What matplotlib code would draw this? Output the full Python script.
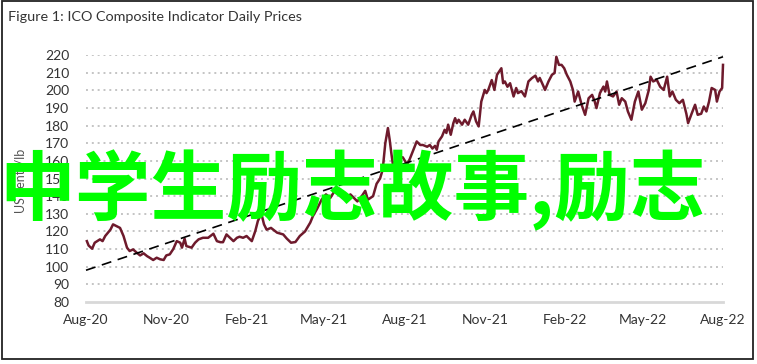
import numpy as np
import matplotlib
matplotlib.use("Agg")
import matplotlib.pyplot as plt
import matplotlib.dates as mdates
from matplotlib.patches import Rectangle

plt.rcParams['font.family'] = ['Lato', 'Noto Sans CJK SC', 'DejaVu Sans']

# ICO composite indicator (US cents/lb)
dates = [
    "2020-08-02", "2020-08-04", "2020-08-08", "2020-08-11", "2020-08-17", "2020-08-20",
    "2020-08-23", "2020-08-29", "2020-09-01", "2020-09-05", "2020-09-09", "2020-09-13",
    "2020-09-17", "2020-09-20", "2020-09-24", "2020-09-28", "2020-10-02", "2020-10-06",
    "2020-10-10", "2020-10-13", "2020-10-17", "2020-10-21", "2020-10-25", "2020-10-29",
    "2020-11-01", "2020-11-05", "2020-11-09", "2020-11-13", "2020-11-17", "2020-11-19",
    "2020-11-22", "2020-11-24", "2020-11-30", "2020-12-04", "2020-12-08", "2020-12-13",
    "2020-12-19", "2020-12-25", "2020-12-29", "2021-01-02", "2021-01-05", "2021-01-09",
    "2021-01-13", "2021-01-17", "2021-01-21", "2021-01-24", "2021-01-28", "2021-02-01",
    "2021-02-07", "2021-02-11", "2021-02-14", "2021-02-18", "2021-02-21", "2021-02-24",
    "2021-03-01", "2021-03-08", "2021-03-15", "2021-03-19", "2021-03-24", "2021-03-29",
    "2021-04-03", "2021-04-09", "2021-04-15", "2021-04-18", "2021-04-23", "2021-04-28",
    "2021-05-03", "2021-05-08", "2021-05-13", "2021-05-19", "2021-05-25", "2021-05-31",
    "2021-06-08", "2021-06-13", "2021-06-17", "2021-06-20", "2021-06-26", "2021-06-30",
    "2021-07-04", "2021-07-07", "2021-07-10", "2021-07-13", "2021-07-15", "2021-07-17",
    "2021-07-19", "2021-07-23", "2021-07-30", "2021-08-04", "2021-08-07", "2021-08-11",
    "2021-08-15", "2021-08-19", "2021-08-22", "2021-08-27", "2021-08-30", "2021-09-02",
    "2021-09-05", "2021-09-07", "2021-09-09", "2021-09-13", "2021-09-16", "2021-09-18",
    "2021-09-20", "2021-09-23", "2021-09-26", "2021-09-28", "2021-09-30", "2021-10-02",
    "2021-10-06", "2021-10-09", "2021-10-13", "2021-10-17", "2021-10-19", "2021-10-22",
    "2021-10-25", "2021-10-28", "2021-11-01", "2021-11-03", "2021-11-05", "2021-11-09",
    "2021-11-12", "2021-11-15", "2021-11-20", "2021-11-22", "2021-11-24", "2021-11-27",
    "2021-11-30", "2021-12-04", "2021-12-07", "2021-12-09", "2021-12-13", "2021-12-17",
    "2021-12-21", "2021-12-25", "2021-12-29", "2022-01-01", "2022-01-03", "2022-01-07",
    "2022-01-09", "2022-01-13", "2022-01-17", "2022-01-20", "2022-01-22", "2022-01-25",
    "2022-01-28", "2022-01-31", "2022-02-03", "2022-02-07", "2022-02-10", "2022-02-12",
    "2022-02-16", "2022-02-20", "2022-02-24", "2022-02-28", "2022-03-04", "2022-03-07",
    "2022-03-09", "2022-03-13", "2022-03-17", "2022-03-19", "2022-03-21", "2022-03-24",
    "2022-03-28", "2022-04-01", "2022-04-04", "2022-04-07", "2022-04-11", "2022-04-14",
    "2022-04-18", "2022-04-22", "2022-04-26", "2022-04-30", "2022-05-04", "2022-05-08",
    "2022-05-10", "2022-05-13", "2022-05-17", "2022-05-21", "2022-05-25", "2022-05-29",
    "2022-06-01", "2022-06-04", "2022-06-08", "2022-06-12", "2022-06-16", "2022-06-20",
    "2022-06-22", "2022-06-26", "2022-06-30", "2022-07-03", "2022-07-07", "2022-07-10",
    "2022-07-13", "2022-07-16", "2022-07-19", "2022-07-23", "2022-07-25", "2022-07-28",
    "2022-07-31", "2022-08-01",
]
prices = [
    114.5, 112.0, 110.2, 113.6, 115.5, 114.5,
    117.4, 121.0, 124.0, 123.0, 122.0, 117.4,
    110.8, 108.9, 109.8, 108.0, 106.4, 107.6,
    106.0, 105.1, 103.8, 105.1, 104.2, 103.8,
    106.4, 107.0, 110.0, 114.5, 113.6, 110.8,
    115.9, 111.7, 110.8, 113.6, 115.5, 116.4,
    116.4, 118.7, 114.5, 113.9, 113.9, 118.3,
    116.4, 114.5, 116.4, 117.0, 116.4, 117.4,
    114.5, 120.2, 126.0, 130.0, 124.0, 121.0,
    122.0, 119.3, 118.3, 116.0, 113.6, 114.0,
    117.4, 120.0, 125.0, 128.6, 133.0, 138.0,
    141.0, 139.0, 143.0, 141.0, 138.0, 141.0,
    137.0, 140.0, 143.0, 138.0, 140.0, 147.0,
    150.0, 155.0, 170.0, 178.6, 172.0, 164.0,
    157.0, 162.0, 162.0, 158.0, 161.0, 166.0,
    171.0, 169.0, 169.0, 168.0, 169.0, 167.0,
    168.5, 166.3, 171.0, 173.9, 177.6, 175.8,
    180.5, 174.8, 181.4, 184.2, 181.4, 183.3,
    180.5, 183.3, 180.5, 186.1, 188.0, 182.4,
    179.5, 193.6, 200.2, 198.4, 200.2, 205.8,
    200.2, 208.8, 212.5, 204.0, 205.0, 202.0,
    204.0, 196.5, 201.3, 198.4, 199.5, 196.5,
    205.0, 206.9, 208.3, 205.0, 207.0, 202.6,
    200.2, 205.0, 208.8, 209.8, 219.0, 214.4,
    214.4, 212.5, 208.8, 205.0, 200.2, 193.6,
    199.3, 191.8, 186.1, 195.5, 197.4, 193.6,
    189.9, 198.4, 202.1, 199.3, 205.0, 197.4,
    196.5, 199.3, 191.8, 195.5, 193.6, 188.0,
    183.3, 193.6, 199.3, 189.0, 192.7, 200.2,
    207.7, 205.0, 206.0, 202.0, 200.2, 207.7,
    196.5, 199.3, 194.6, 192.7, 194.6, 186.7,
    181.4, 186.7, 191.8, 186.1, 186.7, 190.8,
    188.0, 193.6, 201.3, 200.2, 193.6, 199.3,
    201.3, 214.4,
]
trend_dates = ["2020-08-01", "2022-08-01"]
trend_vals = [98.0, 219.0]
tick_dates = ["2020-08-01", "2020-11-01", "2021-02-01", "2021-05-01", "2021-08-01",
              "2021-11-01", "2022-02-01", "2022-05-01", "2022-08-01"]
y_ticks = list(range(80, 221, 10))

title = "Figure 1: ICO Composite Indicator Daily Prices"
y_label = "US cents/lb"
overlay = "中学生励志故事,励志"

d = np.array(dates, dtype="datetime64[D]")
td = np.array(trend_dates, dtype="datetime64[D]")
xt = np.array(tick_dates, dtype="datetime64[D]")

W, H = 757, 364
fig = plt.figure(figsize=(W / 100, H / 100), dpi=100)
ax = fig.add_axes([86 / W, 1 - 302 / H, (723 - 86) / W, (302 - 55) / H])

ax.plot(d, prices, color="#6e1a2c", lw=1.8, clip_on=False, zorder=3)
ax.plot(td, trend_vals, color="black", lw=1.2, dashes=(6, 4), clip_on=False, zorder=4)

ax.set_xlim(xt[0], xt[-1])
ax.set_ylim(80, 220)
ax.set_yticks(y_ticks)
ax.set_xticks(xt)
ax.xaxis.set_major_formatter(mdates.DateFormatter("%b-%y"))
for y in y_ticks[1:]:
    ax.axhline(y, color="#c4c4c4", lw=1.4, ls=(0, (1, 2)), zorder=1)

for s in ["top", "right", "left"]:
    ax.spines[s].set_visible(False)
ax.spines["bottom"].set_color("#d8d8d8")
ax.spines["bottom"].set_linewidth(2)
ax.tick_params(length=0, labelsize=10, colors="#333333")
ax.tick_params(axis="y", pad=12)
ax.tick_params(axis="x", pad=9)
ax.set_ylabel(y_label, fontsize=9, color="#555555", labelpad=10)
ax.yaxis.set_label_coords(-0.094, 0.49)

fig.text(8 / W, 1 - 17 / H, title, fontsize=10.4, color="#333333", va="center", ha="left")
fig.text(353 / W, 1 - 190 / H, overlay, fontsize=54.5, fontweight="bold", color="#00ff00",
         family=["Noto Sans CJK SC", "DejaVu Sans"], ha="center", va="center", zorder=10)

fig.patches.append(Rectangle((2 / W, 1 - 359 / H), 751 / W, 358 / H, transform=fig.transFigure,
                             fill=False, edgecolor="#222222", lw=1.3))

fig.savefig("out.png", dpi=100)
